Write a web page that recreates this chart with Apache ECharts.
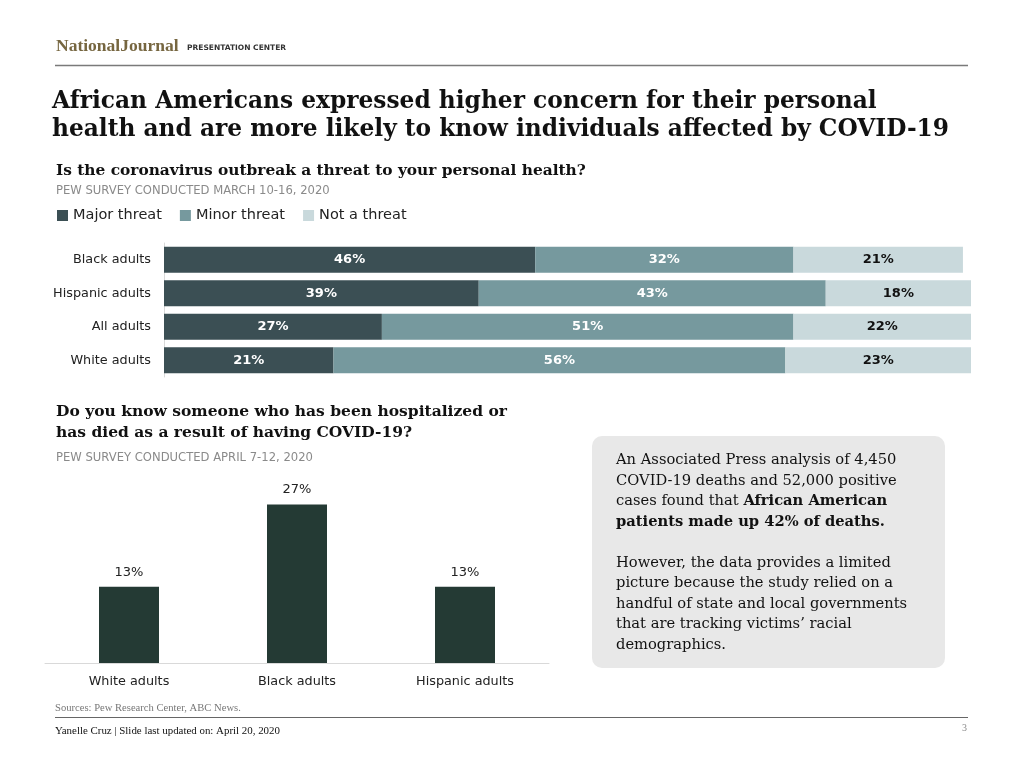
<!DOCTYPE html>
<html><head><meta charset="utf-8">
<script src="https://cdn.jsdelivr.net/npm/echarts@6/dist/echarts.min.js"></script>
<style>html,body{margin:0;padding:0;background:#fff}#c{width:1024px;height:768px}</style>
</head><body><div id="c"></div>
<script>
const threatCategories = ['Black adults', 'Hispanic adults', 'All adults', 'White adults'];
const majorThreat = [46, 39, 27, 21];
const minorThreat = [32, 43, 51, 56];
const notThreat = [21, 18, 22, 23];
const threatSeriesNames = ['Major threat', 'Minor threat', 'Not a threat'];

const knowCategories = ['White adults', 'Black adults', 'Hispanic adults'];
const knowValues = [13, 27, 13];

const SANS = '"DejaVu Sans", Verdana, sans-serif';
const SERIF = '"DejaVu Serif", Georgia, serif';
const FOOT = '"Liberation Serif", "Times New Roman", serif';

const chart = echarts.init(document.getElementById('c'), null, {renderer: 'canvas'});

function seg(name, data, color, labelColor) {
  return {
    name, type: 'bar', stack: 'threat', xAxisIndex: 0, yAxisIndex: 0,
    data, barWidth: 26,
    itemStyle: {color},
    label: {show: true, position: 'inside', formatter: '{c}%', color: labelColor,
      fontFamily: SANS, fontWeight: 'bold', fontSize: 13},
    emphasis: {disabled: true}
  };
}

const boxText = [
  'An Associated Press analysis of 4,450',
  'COVID-19 deaths and 52,000 positive',
  'cases found that {b|African American}',
  '{b|patients made up 42% of deaths.}',
  '',
  'However, the data provides a limited',
  'picture because the study relied on a',
  'handful of state and local governments',
  'that are tracking victims\u2019 racial',
  'demographics.'
].join('\n');

chart.setOption({
  animation: false,
  color: ['#3b4f54', '#76999e', '#c9d9dc'],
  legend: {
    data: threatSeriesNames, left: 57, top: 208, padding: 0, icon: 'rect', itemWidth: 11, itemHeight: 11,
    itemGap: 18, textStyle: {fontFamily: SANS, fontSize: 14.5, color: '#222'}, selectedMode: false
  },
  grid: [
    {left: 164, top: 243, width: 807, height: 134},
    {left: 45, top: 487, width: 504, height: 176}
  ],
  xAxis: [
    {type: 'value', gridIndex: 0, min: 0, max: 100, show: false},
    {type: 'category', gridIndex: 1, data: knowCategories,
      axisLine: {lineStyle: {color: '#d9d9d9', width: 1}}, axisTick: {show: false},
      axisLabel: {fontFamily: SANS, fontSize: 12.8, color: '#222', margin: 12}}
  ],
  yAxis: [
    {type: 'category', gridIndex: 0, data: threatCategories, inverse: true,
      axisLine: {show: true, lineStyle: {color: '#d9d9d9'}}, axisTick: {show: false},
      axisLabel: {fontFamily: SANS, fontSize: 12.8, color: '#222', margin: 13}},
    {type: 'value', gridIndex: 1, min: 0, max: 30, show: false, splitLine: {show: false}}
  ],
  series: [
    seg(threatSeriesNames[0], majorThreat, '#3b4f54', '#fff'),
    seg(threatSeriesNames[1], minorThreat, '#76999e', '#fff'),
    seg(threatSeriesNames[2], notThreat, '#c9d9dc', '#111'),
    {type: 'bar', xAxisIndex: 1, yAxisIndex: 1, data: knowValues, barWidth: 60,
      itemStyle: {color: '#243a34'},
      label: {show: true, position: 'top', distance: 8, formatter: '{c}%', fontFamily: SANS, fontSize: 13, color: '#222'},
      emphasis: {disabled: true}}
  ],
  graphic: [
    {type: 'text', x: 56, y: 46, style: {text: 'NationalJournal', font: 'bold 17.5px "Liberation Serif", serif', fill: '#766640', verticalAlign: 'middle'}},
    {type: 'text', x: 187, y: 48, style: {text: 'PRESENTATION CENTER', font: 'bold 7.5px ' + SANS, fill: '#333', verticalAlign: 'middle'}},
    {type: 'line', shape: {x1: 55, y1: 65.5, x2: 968, y2: 65.5}, style: {stroke: '#7a7a7a', lineWidth: 1.5}},
    {type: 'text', x: 52, y: 101.5, style: {text: 'African Americans expressed higher concern for their personal', font: 'bold 23.3px ' + SERIF, fill: '#111', verticalAlign: 'middle'}},
    {type: 'text', x: 52, y: 129.5, style: {text: 'health and are more likely to know individuals affected by COVID-19', font: 'bold 23.3px ' + SERIF, fill: '#111', verticalAlign: 'middle'}},
    {type: 'text', x: 56, y: 170.5, style: {text: 'Is the coronavirus outbreak a threat to your personal health?', font: 'bold 15.4px ' + SERIF, fill: '#111', verticalAlign: 'middle'}},
    {type: 'text', x: 56, y: 190.5, style: {text: 'PEW SURVEY CONDUCTED MARCH 10-16, 2020', font: '11.6px ' + SANS, fill: '#8a8a8a', verticalAlign: 'middle'}},
    {type: 'text', x: 56, y: 411.5, style: {text: 'Do you know someone who has been hospitalized or', font: 'bold 15.5px ' + SERIF, fill: '#111', verticalAlign: 'middle'}},
    {type: 'text', x: 56, y: 432.5, style: {text: 'has died as a result of having COVID-19?', font: 'bold 15.5px ' + SERIF, fill: '#111', verticalAlign: 'middle'}},
    {type: 'text', x: 56, y: 457.5, style: {text: 'PEW SURVEY CONDUCTED APRIL 7-12, 2020', font: '11.6px ' + SANS, fill: '#8a8a8a', verticalAlign: 'middle'}},
    {type: 'rect', shape: {x: 592, y: 436, width: 353, height: 232, r: 10}, style: {fill: '#e8e8e8'}},
    {type: 'text', x: 616, y: 450, style: {text: boxText, font: '14.7px ' + SERIF, fill: '#111', lineHeight: 20.5, verticalAlign: 'top',
      rich: {b: {font: 'bold 14.7px ' + SERIF, fill: '#111', lineHeight: 20.5}}}},
    {type: 'text', x: 55, y: 708, style: {text: 'Sources: Pew Research Center, ABC News.', font: '10.6px ' + FOOT, fill: '#777', verticalAlign: 'middle'}},
    {type: 'line', shape: {x1: 55, y1: 717.5, x2: 968, y2: 717.5}, style: {stroke: '#666', lineWidth: 1.2}},
    {type: 'text', x: 55, y: 731, style: {text: 'Yanelle Cruz | Slide last updated on: April 20, 2020', font: '10.9px ' + FOOT, fill: '#111', verticalAlign: 'middle'}},
    {type: 'text', x: 967, y: 728, style: {text: '3', font: '10px ' + FOOT, fill: '#888', align: 'right', verticalAlign: 'middle'}}
  ]
});
</script></body></html>
